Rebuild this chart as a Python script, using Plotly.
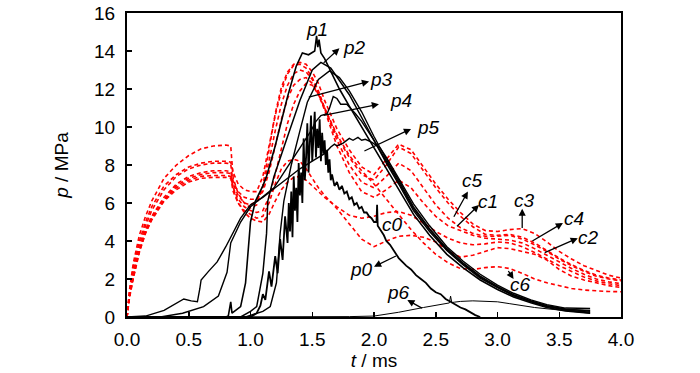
import plotly.graph_objects as go

# ---------------- data ----------------
# measured pressures (black, solid)
p0_t = [0, 1.0, 1.05, 1.08, 1.1, 1.12, 1.15, 1.17, 1.2, 1.22,
        1.24, 1.26, 1.28, 1.3, 1.31, 1.32, 1.33, 1.34, 1.35, 1.36,
        1.37, 1.38, 1.39, 1.4, 1.41, 1.42, 1.43, 1.44, 1.45, 1.46,
        1.47, 1.48, 1.49, 1.5, 1.51, 1.52, 1.53, 1.54, 1.55, 1.56,
        1.57, 1.58, 1.59, 1.6, 1.61, 1.62, 1.63, 1.64, 1.65, 1.66,
        1.68, 1.7, 1.72, 1.74, 1.76, 1.78, 1.8, 1.82, 1.84, 1.86,
        1.88, 1.9, 1.92, 1.94, 1.96, 1.98, 2.0, 2.02, 2.025, 2.03,
        2.05, 2.08, 2.1, 2.13, 2.16, 2.2, 2.23, 2.26, 2.3, 2.34,
        2.38, 2.42, 2.46, 2.5, 2.54, 2.58, 2.62, 2.66, 2.7, 2.74,
        2.78, 2.82, 2.86]
p0_p = [0, 0, 0.2, 0.6, 1.2, 0.9, 2.4, 1.6, 3.2, 2.3,
        4.1, 3.0, 5.3, 3.9, 6.0, 4.5, 6.6, 4.2, 7.4, 5.6,
        6.8, 5.0, 8.1, 6.4, 7.6, 6.0, 9.4, 7.2, 8.4, 10.2,
        7.6, 9.0, 10.6, 8.2, 9.6, 10.8, 8.4, 9.9, 8.9, 10.4,
        8.2, 9.7, 8.6, 9.3, 8.0, 8.8, 7.6, 8.3, 7.2, 7.5,
        6.9, 7.1, 6.7, 6.9, 6.5, 6.6, 6.2, 6.3, 5.9, 6.0,
        5.7, 5.8, 5.5, 5.5, 5.3, 5.2, 5.0, 5.0, 5.9, 4.8,
        4.6, 4.3, 4.0, 3.8, 3.5, 3.1, 2.9, 2.7, 2.5, 2.2,
        2.0, 1.8, 1.5, 1.3, 1.2, 0.95, 0.8, 0.65, 0.5, 0.4,
        0.25, 0.1, 0]

p1_t = [0, 0.8, 0.82, 0.84, 0.85, 0.88, 0.92, 0.96, 0.98, 1.0,
        1.04, 1.1, 1.13, 1.2, 1.25, 1.3, 1.37, 1.42, 1.47, 1.52,
        1.535, 1.545, 1.555, 1.57, 1.6, 1.72, 1.8, 1.9, 2.0, 2.1,
        2.2, 2.32, 2.45, 2.59, 2.72, 2.86, 3.0, 3.13, 3.27, 3.4,
        3.55, 3.75]
p1_p = [0, 0, 0.05, 0.8, 0.2, 0.35, 0.55, 1.8, 3.4, 5.0,
        6.1, 6.9, 7.4, 9.0, 10.3, 11.6, 13.2, 13.9, 13.8, 14.0,
        14.8, 14.2, 14.6, 13.9, 13.6, 12.0, 11.1, 10.0, 8.9, 7.8,
        6.7, 5.4, 4.3, 3.3, 2.6, 1.95, 1.45, 1.05, 0.75, 0.5,
        0.32, 0.2]

p2_t = [0, 0.92, 1.0, 1.05, 1.1, 1.13, 1.14, 1.19, 1.3, 1.4,
        1.5, 1.57, 1.65, 1.75, 1.8, 1.9, 2.0, 2.1, 2.2, 2.32,
        2.45, 2.59, 2.72, 2.86, 3.0, 3.13, 3.27, 3.4, 3.55, 3.75]
p2_p = [0, 0, 0.3, 0.55, 2.3, 4.4, 6.1, 7.4, 9.5, 11.4,
        13.0, 13.4, 13.1, 12.2, 11.7, 10.5, 9.3, 8.1, 7.0, 5.6,
        4.5, 3.5, 2.75, 2.05, 1.55, 1.12, 0.8, 0.55, 0.37, 0.25]

p3_t = [0, 0.96, 1.1, 1.16, 1.21, 1.24, 1.27, 1.33, 1.4, 1.46,
        1.55, 1.64, 1.72, 1.8, 1.9, 2.0, 2.1, 2.2, 2.32, 2.45,
        2.59, 2.72, 2.86, 3.0, 3.13, 3.27, 3.4, 3.55, 3.75]
p3_p = [0, 0, 0.3, 0.55, 1.8, 4.4, 6.1, 8.0, 9.8, 11.3,
        12.5, 12.95, 12.6, 11.9, 10.8, 9.5, 8.3, 7.2, 5.8, 4.65,
        3.6, 2.85, 2.15, 1.6, 1.18, 0.85, 0.6, 0.42, 0.3]

p4_t = [0, 0.27, 0.45, 0.62, 0.74, 0.81, 0.84, 0.92, 1.0, 1.1,
        1.19, 1.3, 1.4, 1.49, 1.53, 1.57, 1.62, 1.64, 1.67, 1.7,
        1.73, 1.78, 1.85, 1.9, 2.0, 2.1, 2.2, 2.32, 2.45, 2.59,
        2.72, 2.86, 3.0, 3.13, 3.27, 3.4, 3.55, 3.75]
p4_p = [0, 0, 0.2, 0.55, 1.1, 2.35, 3.9, 5.0, 5.8, 6.3,
        6.8, 7.9, 8.9, 9.8, 10.3, 10.6, 10.7, 11.0, 11.6, 11.5,
        11.2, 11.2, 10.7, 10.3, 9.3, 8.2, 7.1, 5.7, 4.6, 3.55,
        2.8, 2.1, 1.58, 1.15, 0.83, 0.58, 0.4, 0.35]

p5_t = [0, 0.15, 0.3, 0.4, 0.46, 0.52, 0.57, 0.59, 0.6, 0.66,
        0.73, 0.8, 0.85, 0.92, 1.0, 1.1, 1.2, 1.3, 1.4, 1.5,
        1.6, 1.65, 1.68, 1.7, 1.75, 1.8, 1.83, 1.87, 1.9, 1.93,
        1.98, 2.05, 2.1, 2.2, 2.32, 2.45, 2.59, 2.72, 2.86, 3.0,
        3.13, 3.27, 3.4, 3.55, 3.75]
p5_p = [0, 0.05, 0.35, 0.7, 0.95, 0.85, 0.8, 1.5, 1.95, 2.4,
        2.9, 3.7, 4.3, 5.2, 5.9, 6.3, 6.8, 7.3, 7.8, 8.2,
        8.6, 8.95, 9.1, 9.0, 9.15, 9.4, 9.3, 9.45, 9.3, 9.35,
        9.2, 8.9, 8.4, 7.3, 5.95, 4.8, 3.7, 2.95, 2.25, 1.68,
        1.25, 0.9, 0.65, 0.47, 0.45]

p6_t = [0, 1.3, 1.6, 1.8, 2.0, 2.2, 2.4, 2.55, 2.61, 2.62,
        2.63, 2.65, 2.7, 2.8, 2.9, 3.0, 3.1, 3.2, 3.3, 3.45,
        3.6, 3.75]
p6_p = [0, 0, 0.0, 0.02, 0.05, 0.25, 0.5, 0.68, 0.74, 1.1,
        0.76, 0.78, 0.82, 0.85, 0.83, 0.8, 0.7, 0.58, 0.5, 0.4,
        0.3, 0.2]

# computed pressures (red, dashed) on a common time grid
c_t = [0, 0.02, 0.05, 0.1, 0.15, 0.2,
       0.3, 0.4, 0.5, 0.6, 0.7, 0.8,
       0.84, 0.86, 0.9, 0.95,
       1.0, 1.05, 1.1, 1.15, 1.2, 1.25, 1.3, 1.35, 1.4, 1.45, 1.5, 1.55, 1.6,
       1.7, 1.8, 1.9, 2.0, 2.1, 2.2, 2.3, 2.4, 2.5, 2.6, 2.7, 2.8,
       2.9, 3.0, 3.1, 3.2, 3.3, 3.4, 3.5, 3.6, 3.7, 3.8, 3.9, 4.0]

c3_p = [0, 1.4, 2.8, 4.3, 5.3, 6.1,
        7.3, 8.0, 8.5, 8.85, 9.0, 9.05,
        9.0, 7.3, 6.5, 6.0,
        5.75, 5.9, 6.9, 8.8, 10.7, 12.1, 12.9, 13.3, 13.4, 13.3, 12.9, 12.3, 11.4,
        9.9, 8.8, 7.9, 7.5, 8.3, 9.1, 8.8, 7.9, 7.0, 6.2, 5.5, 4.9,
        4.55, 4.5, 4.6, 4.65, 4.4, 3.95, 3.45, 3.05, 2.7, 2.45, 2.2, 2.05]
c4_p = [0, 1.3, 2.6, 4.0, 5.0, 5.8,
        6.9, 7.5, 7.9, 8.1, 8.2, 8.2,
        8.15, 7.6, 7.0, 6.7,
        6.6, 6.6, 7.4, 9.0, 10.6, 11.9, 12.8, 13.25, 13.3, 13.1, 12.6, 11.9, 11.0,
        9.5, 8.4, 7.5, 7.2, 8.0, 8.95, 8.6, 7.7, 6.8, 6.0, 5.3, 4.75,
        4.35, 4.3, 4.35, 4.2, 3.9, 3.5, 3.1, 2.75, 2.45, 2.2, 2.05, 1.95]
c5_p = [0, 1.2, 2.4, 3.8, 4.8, 5.6,
        6.7, 7.4, 7.8, 8.0, 8.1, 8.1,
        8.05, 7.0, 6.4, 6.0,
        5.9, 6.1, 6.8, 8.2, 9.8, 11.2, 12.2, 12.8, 13.0, 12.9, 12.5, 11.8, 11.0,
        9.3, 8.0, 7.1, 6.8, 7.4, 8.1, 7.7, 6.8, 5.9, 5.2, 4.7, 4.4,
        4.25, 4.25, 4.3, 4.1, 3.8, 3.45, 3.05, 2.7, 2.4, 2.15, 2.0, 1.9]
c1_p = [0, 1.1, 2.2, 3.6, 4.6, 5.3,
        6.3, 7.0, 7.4, 7.6, 7.7, 7.7,
        7.65, 7.1, 6.6, 6.3,
        6.2, 6.2, 6.6, 7.6, 9.0, 10.4, 11.5, 12.2, 12.5, 12.6, 12.3, 11.7, 10.9,
        9.0, 7.6, 6.6, 6.3, 6.7, 7.2, 6.8, 6.0, 5.3, 4.8, 4.55, 4.3,
        4.15, 4.1, 4.05, 3.9, 3.6, 3.25, 2.9, 2.55, 2.25, 2.0, 1.85, 1.75]
c0_p = [0, 1.1, 2.1, 3.5, 4.5, 5.2,
        6.2, 6.9, 7.3, 7.5, 7.6, 7.6,
        7.55, 6.8, 6.0, 5.5,
        5.2, 5.05, 5.0, 5.4, 6.1, 6.7, 7.1, 7.35, 7.4, 7.2, 6.9, 6.6, 6.3,
        5.8, 5.35, 5.2, 5.3, 5.5, 5.55, 5.35, 4.95, 4.5, 4.15, 3.9, 3.8,
        3.85, 3.95, 3.9, 3.7, 3.4, 3.05, 2.7, 2.4, 2.1, 1.9, 1.75, 1.65]
c2_p = [0, 1.0, 2.0, 3.4, 4.4, 5.1,
        6.1, 6.7, 7.1, 7.3, 7.35, 7.35,
        7.3, 6.6, 6.0, 5.6,
        5.4, 5.2, 5.3, 6.0, 7.0, 7.8, 8.2, 8.3, 8.2, 7.8, 7.3, 6.8, 6.4,
        5.7, 4.9, 4.1, 3.7, 4.0, 4.25, 4.3, 4.2, 3.95, 3.5, 3.15, 3.25,
        3.45, 3.65, 3.6, 3.45, 3.3, 3.0, 2.5, 2.15, 1.95, 1.8, 1.65, 1.55]
c6_p = [0, 1.05, 2.05, 3.45, 4.45, 5.15,
        6.15, 6.8, 7.2, 7.4, 7.45, 7.45,
        7.4, 6.8, 6.2, 5.8,
        5.6, 5.5, 5.6, 6.3, 7.5, 8.9, 10.2, 11.2, 11.9, 12.3, 12.2, 11.7, 11.0,
        9.6, 8.5, 7.7, 7.0, 6.2, 5.4, 4.6, 3.9, 3.3, 2.85, 2.55, 2.5,
        2.6, 2.65, 2.55, 2.3, 2.0, 1.8, 1.65, 1.5, 1.42, 1.37, 1.34, 1.33]

x_ticks = [0.0, 0.5, 1.0, 1.5, 2.0, 2.5, 3.0, 3.5, 4.0]
y_ticks = [0, 2, 4, 6, 8, 10, 12, 14, 16]

# ---------------- figure ----------------
FONT = "Liberation Sans Narrow, Arial Narrow, Liberation Sans, Arial, sans-serif"
fig = go.Figure()

for ys in [c3_p, c4_p, c5_p, c1_p, c0_p, c2_p, c6_p]:
    fig.add_trace(go.Scatter(x=c_t, y=ys, mode="lines",
                             line=dict(color="#ff0000", width=1.6, dash="4px,3px"),
                             showlegend=False, hoverinfo="skip"))

black = [(p6_t, p6_p, 1.0), (p5_t, p5_p, 1.4), (p4_t, p4_p, 1.4), (p3_t, p3_p, 1.4),
         (p2_t, p2_p, 1.5), (p1_t, p1_p, 1.6), (p0_t, p0_p, 1.8)]
for xs, ys, w in black:
    fig.add_trace(go.Scatter(x=xs, y=ys, mode="lines",
                             line=dict(color="black", width=w),
                             showlegend=False, hoverinfo="skip"))

labels = [("p1", 1.54, 15.15), ("p2", 1.84, 14.2), ("p3", 2.06, 12.5), ("p4", 2.22, 11.4),
          ("p5", 2.44, 10.0), ("p0", 1.9, 2.5), ("p6", 2.2, 1.3), ("c0", 2.15, 4.85),
          ("c5", 2.8, 7.2), ("c1", 2.92, 6.1), ("c3", 3.22, 6.15), ("c4", 3.62, 5.2),
          ("c2", 3.74, 4.2), ("c6", 3.19, 1.7)]
for txt, lx, ly in labels:
    fig.add_annotation(x=lx, y=ly, text="<i>%s</i>" % txt, showarrow=False,
                       xanchor="center", yanchor="middle",
                       font=dict(family=FONT, size=19, color="black"))

arrows = [((1.58, 13.3), (1.72, 14.15)), ((1.46, 11.55), (1.96, 12.4)),
          ((1.58, 10.6), (2.04, 11.2)), ((1.91, 8.7), (2.3, 9.9)),
          ((2.19, 3.25), (2.0, 2.65)), ((2.4, 0.42), (2.27, 0.9)),
          ((2.64, 5.2), (2.76, 6.6)), ((2.66, 4.7), (2.85, 5.9)),
          ((3.2, 4.6), (3.2, 5.7)), ((3.27, 3.95), (3.53, 4.95)),
          ((3.37, 3.35), (3.65, 4.15)), ((3.08, 2.5), (3.13, 2.0))]
for (tx, ty), (hx, hy) in arrows:
    fig.add_annotation(x=hx, y=hy, ax=tx, ay=ty, xref="x", yref="y", axref="x", ayref="y",
                       text="", showarrow=True, arrowhead=2, arrowsize=1.1,
                       arrowwidth=1.3, arrowcolor="black", standoff=0, startstandoff=0)

axis_common = dict(showline=True, linecolor="black", linewidth=2, mirror=True,
                   ticks="inside", ticklen=5, tickwidth=1.5, tickcolor="black",
                   showgrid=False, zeroline=False, automargin=False,
                   tickfont=dict(family=FONT, size=19, color="black"))
fig.update_xaxes(range=[0, 4.0], tickvals=x_ticks, ticktext=["%.1f" % v for v in x_ticks],
                 title=dict(text="<i>t</i> / ms", standoff=2,
                            font=dict(family=FONT, size=19, color="black")),
                 ticklabelstandoff=4, **axis_common)
fig.update_yaxes(range=[0, 16], tickvals=y_ticks, ticktext=[str(v) for v in y_ticks],
                 title=dict(text="<i>p</i> / MPa", standoff=20,
                            font=dict(family=FONT, size=19, color="black")),
                 ticklabelstandoff=6, **axis_common)

fig.update_layout(width=700, height=373, margin=dict(l=127, r=79, t=13, b=56),
                  plot_bgcolor="white", paper_bgcolor="white", showlegend=False,
                  font=dict(family=FONT, size=19, color="black"))

fig.write_html("out.html", config={"displayModeBar": False, "staticPlot": True},
               post_script="document.body.style.margin='0';document.body.style.overflow='hidden';")
